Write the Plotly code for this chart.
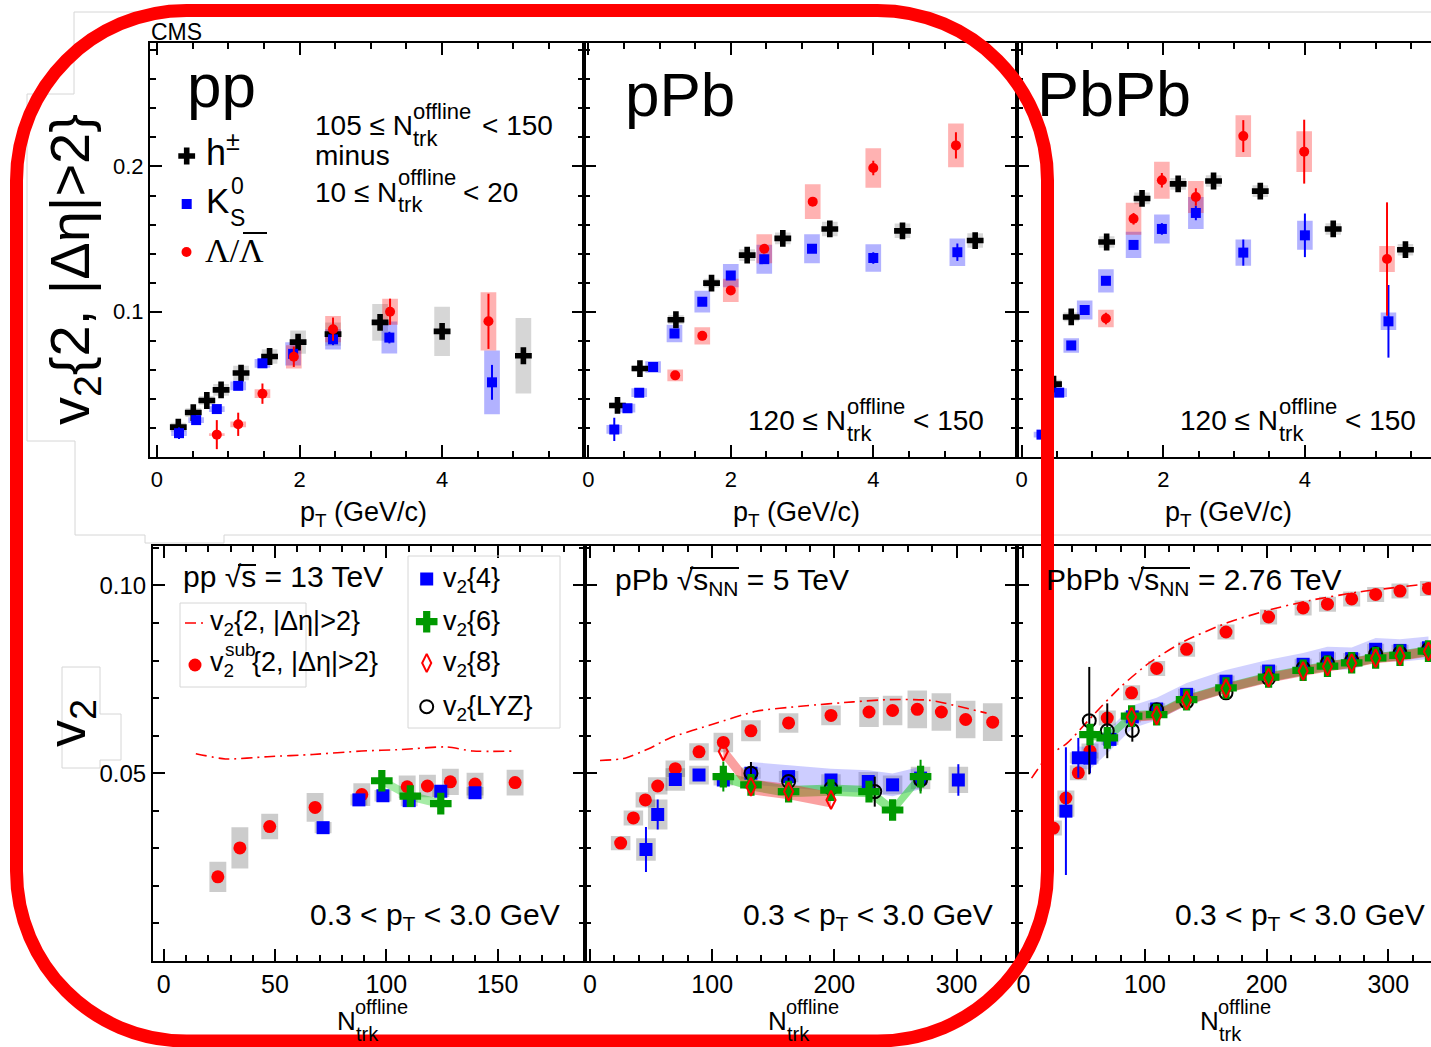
import plotly.graph_objects as go

W, H = 1431, 1047
FONT = "Liberation Sans"
SERIF = "Liberation Serif"

# ===================== DATA =====================
# ---- Top row: v2{2,|deta|>2} vs pT (GeV/c) ----
# pp
pp_h_pt = [0.30, 0.51, 0.70, 0.90, 1.18, 1.58, 1.98, 2.47, 3.13, 4.00, 5.14]
pp_h_v2 = [0.0206, 0.0306, 0.0389, 0.0462, 0.0578, 0.0692, 0.0791, 0.0846, 0.0927, 0.0865, 0.0697]
pp_h_sys = [0.003, 0.003, 0.003, 0.004, 0.005, 0.005, 0.008, 0.008, 0.0127, 0.017, 0.026]
pp_k_pt = [0.31, 0.55, 0.84, 1.14, 1.48, 1.91, 2.47, 3.26, 4.70]
pp_k_v2 = [0.0164, 0.0254, 0.0330, 0.0490, 0.0645, 0.0710, 0.0810, 0.0822, 0.0514]
pp_k_sys = [0.002, 0.002, 0.002, 0.003, 0.003, 0.008, 0.007, 0.011, 0.022]
pp_k_err = [0.004, 0.002, 0.002, 0.002, 0.002, 0.003, 0.004, 0.004, 0.012]
pp_l_pt = [0.84, 1.14, 1.48, 1.92, 2.47, 3.27, 4.65]
pp_l_v2 = [0.0154, 0.0225, 0.0436, 0.0690, 0.0880, 0.1000, 0.0934]
pp_l_sys = [0.001, 0.002, 0.003, 0.008, 0.009, 0.009, 0.020]
pp_l_err = [0.010, 0.008, 0.007, 0.007, 0.008, 0.009, 0.019]
# pPb
ppb_h_pt = [0.41, 0.725, 1.23, 1.73, 2.23, 2.73, 3.39, 4.41, 5.43]
ppb_h_v2 = [0.0355, 0.0609, 0.0945, 0.1197, 0.1390, 0.1505, 0.1570, 0.1557, 0.1490]
ppb_h_sys = [0.002, 0.002, 0.003, 0.003, 0.004, 0.004, 0.005, 0.005, 0.005]
ppb_k_pt = [0.365, 0.55, 0.715, 0.91, 1.21, 1.60, 2.00, 2.47, 3.14, 4.00, 5.18]
ppb_k_v2 = [0.0190, 0.0336, 0.0443, 0.0620, 0.0850, 0.1069, 0.1249, 0.1362, 0.1434, 0.1370, 0.1410]
ppb_k_sys = [0.003, 0.003, 0.003, 0.004, 0.006, 0.0075, 0.008, 0.010, 0.010, 0.0095, 0.0095]
ppb_k_err = [0.008, 0.002, 0.002, 0.002, 0.002, 0.002, 0.003, 0.003, 0.003, 0.004, 0.006]
ppb_l_pt = [1.22, 1.60, 2.00, 2.47, 3.15, 4.00, 5.16]
ppb_l_v2 = [0.0562, 0.0834, 0.1147, 0.1434, 0.1758, 0.1990, 0.2145]
ppb_l_sys = [0.004, 0.006, 0.008, 0.010, 0.012, 0.0136, 0.015]
ppb_l_err = [0.002, 0.002, 0.003, 0.003, 0.003, 0.005, 0.009]
# PbPb
pbpb_h_pt = [0.45, 0.70, 1.20, 1.70, 2.21, 2.71, 3.37, 4.40, 5.42]
pbpb_h_v2 = [0.0502, 0.0964, 0.1480, 0.1780, 0.1880, 0.1900, 0.1830, 0.1570, 0.1427]
pbpb_h_sys = [0.003, 0.003, 0.004, 0.004, 0.004, 0.004, 0.004, 0.004, 0.004]
pbpb_k_pt = [0.28, 0.53, 0.70, 0.89, 1.19, 1.58, 1.98, 2.46, 3.13, 4.00, 5.18]
pbpb_k_v2 = [0.0154, 0.0443, 0.0768, 0.1012, 0.1213, 0.1460, 0.1570, 0.1680, 0.1407, 0.1526, 0.0934]
pbpb_k_sys = [0.002, 0.003, 0.005, 0.0066, 0.008, 0.009, 0.010, 0.011, 0.009, 0.010, 0.006]
pbpb_k_err = [0.002, 0.002, 0.002, 0.002, 0.002, 0.003, 0.004, 0.005, 0.009, 0.015, 0.025]
pbpb_l_pt = [1.19, 1.58, 1.98, 2.46, 3.13, 3.99, 5.16]
pbpb_l_v2 = [0.0953, 0.1640, 0.1905, 0.1790, 0.2209, 0.2102, 0.1363]
pbpb_l_sys = [0.006, 0.011, 0.0127, 0.011, 0.0143, 0.014, 0.009]
pbpb_l_err = [0.004, 0.004, 0.005, 0.006, 0.011, 0.022, 0.039]

# ---- Bottom row: v2 vs N_trk^offline ----
# pp 13 TeV
pp_c2_N = [14.4, 27.7, 46.6, 67.0, 89.0, 106.5, 127.0, 139.0, 158.0]
pp_c2_v2 = [0.0552, 0.0538, 0.0544, 0.0550, 0.0559, 0.0563, 0.0570, 0.0559, 0.0559]
pp_sub_N = [24.3, 34.2, 47.6, 68.0, 89.0, 109.4, 118.5, 128.8, 139.9, 157.9]
pp_sub_v2 = [0.0224, 0.0301, 0.0358, 0.0409, 0.0443, 0.0464, 0.0466, 0.0477, 0.0471, 0.0475]
pp_sub_sys = [0.0040, 0.0055, 0.0034, 0.0038, 0.0030, 0.0030, 0.0030, 0.0035, 0.0030, 0.0034]
pp_v24_N = [71.6, 87.7, 98.5, 110.3, 124.5, 139.9]
pp_v24 = [0.0355, 0.0429, 0.0440, 0.0427, 0.0452, 0.0448]
pp_v24_sys = [0.0015, 0.0015, 0.0015, 0.0015, 0.0015, 0.0015]
pp_v24_err = [0.0012, 0.0010, 0.0010, 0.0012, 0.0012, 0.0010]
pp_v26_N = [98.0, 110.8, 124.5]
pp_v26 = [0.0480, 0.0439, 0.0419]
pp_v26_err = [0.0015, 0.0018, 0.0018]
# pPb 5 TeV
ppb_c2_N = [8.2, 27.3, 48.0, 65.5, 101.0, 136.0, 174.5, 215.5, 245.0, 278.0, 324.5]
ppb_c2_v2 = [0.0534, 0.0539, 0.0565, 0.0594, 0.0631, 0.0665, 0.0679, 0.0690, 0.0696, 0.0694, 0.0660]
ppb_sub_N = [25.1, 35.5, 45.3, 55.4, 69.8, 89.2, 109.1, 131.7, 162.5, 197.2, 228.3, 247.6, 267.8, 287.5, 307.4, 329.5]
ppb_sub_v2 = [0.0314, 0.0381, 0.0429, 0.0466, 0.0512, 0.0557, 0.0582, 0.0613, 0.0634, 0.0654, 0.0663, 0.0667, 0.0670, 0.0663, 0.0643, 0.0636]
ppb_sub_sys = [0.0019, 0.0020, 0.0020, 0.0023, 0.0022, 0.0023, 0.0026, 0.0028, 0.0026, 0.0026, 0.0040, 0.0039, 0.0050, 0.0050, 0.0050, 0.0050]
ppb_v24_N = [45.8, 55.4, 69.8, 89.2, 109.1, 131.7, 162.5, 197.2, 227.7, 247.6, 270.5, 301.4]
ppb_v24 = [0.0297, 0.0390, 0.0483, 0.0495, 0.0482, 0.0500, 0.0491, 0.0482, 0.0478, 0.0469, 0.0487, 0.0482]
ppb_v24_sys = [0.0030, 0.0040, 0.0030, 0.0025, 0.0015, 0.0015, 0.0015, 0.0015, 0.0025, 0.0025, 0.0030, 0.0035]
ppb_v24_err = [0.0060, 0.0040, 0.0010, 0.0010, 0.0010, 0.0010, 0.0010, 0.0010, 0.0010, 0.0010, 0.0010, 0.0042]
ppb_v26_N = [109.1, 131.7, 162.5, 197.2, 228.3, 247.6, 270.5]
ppb_v26 = [0.0491, 0.0469, 0.0451, 0.0455, 0.0451, 0.0402, 0.0491]
ppb_v26_err = [0.0040, 0.0012, 0.0012, 0.0012, 0.0012, 0.0012, 0.0045]
ppb_v28_N = [109.1, 131.7, 162.5, 197.2]
ppb_v28 = [0.0558, 0.0464, 0.0451, 0.0429]
ppb_lyz_N = [131.7, 162.5, 197.2, 233.0, 270.5]
ppb_lyz = [0.0500, 0.0478, 0.0460, 0.0451, 0.0482]
ppb_lyz_err = [0.0030, 0.0010, 0.0010, 0.0040, 0.0030]
# PbPb 2.76 TeV
pbpb_c2_N = [6.8, 20.0, 36.0, 57.8, 80.0, 104.0, 131.5, 167.0, 200.0, 235.6, 276.7, 335.0]
pbpb_c2_v2 = [0.0487, 0.0545, 0.0580, 0.0656, 0.0730, 0.0795, 0.0850, 0.0900, 0.0933, 0.0960, 0.0983, 0.1005]
pbpb_sub_N = [24.7, 35.0, 45.2, 54.8, 69.0, 89.0, 109.6, 134.2, 166.6, 201.6, 230.0, 250.0, 269.9, 289.6, 309.6, 333.0]
pbpb_sub_v2 = [0.0354, 0.0434, 0.0501, 0.0559, 0.0647, 0.0714, 0.0779, 0.0830, 0.0876, 0.0916, 0.0940, 0.0950, 0.0964, 0.0976, 0.0985, 0.0992]
pbpb_sub_sys = [0.0020] * 16
pbpb_v24_N = [35.0, 45.2, 54.8, 71.2, 89.6, 109.6, 134.2, 166.6, 201.6, 230.0, 250.0, 269.9, 289.6, 309.6, 333.0]
pbpb_v24 = [0.0399, 0.0541, 0.0540, 0.0590, 0.0650, 0.0671, 0.0710, 0.0745, 0.0772, 0.0790, 0.0807, 0.0805, 0.0830, 0.0827, 0.0834]
pbpb_v24_sys = [0.0015] * 15
pbpb_v24_err = [0.0170, 0.0053, 0.0040, 0.0020, 0.0010, 0.0008, 0.0008, 0.0008, 0.0008, 0.0008, 0.0008, 0.0008, 0.0008, 0.0008, 0.0008]
pbpb_v26_N = [54.8, 69.0, 89.0, 109.6, 134.2, 166.6, 201.6, 230.0, 250.0, 269.9, 289.6, 309.6, 333.0]
pbpb_v26 = [0.0603, 0.0594, 0.0652, 0.0656, 0.0696, 0.0727, 0.0756, 0.0774, 0.0785, 0.0794, 0.0807, 0.0814, 0.0825]
pbpb_v28_N = [89.0, 109.6, 134.2, 166.6, 201.6, 230.0, 250.0, 269.9, 289.6, 309.6, 333.0]
pbpb_v28 = [0.0650, 0.0654, 0.0694, 0.0726, 0.0754, 0.0772, 0.0784, 0.0793, 0.0806, 0.0812, 0.0824]
pbpb_lyz_N = [54.2, 69.0, 89.6, 109.6, 134.2, 166.6, 201.6, 230.0, 250.0, 269.9, 289.6, 309.6, 333.0]
pbpb_lyz = [0.0640, 0.0613, 0.0614, 0.0669, 0.0690, 0.0714, 0.0752, 0.0780, 0.0794, 0.0800, 0.0818, 0.0820, 0.0830]
pbpb_lyz_err = [0.0143, 0.0073, 0.0030, 0.0010, 0.0010, 0.0010, 0.0010, 0.0010, 0.0010, 0.0010, 0.0010, 0.0010, 0.0010]

# tick labels
top_xticks = [0, 2, 4]
top_yticks = [0.1, 0.2]
top_yticktext = ["0.1", "0.2"]
bot_yticks = [0.05, 0.10]
bot_yticktext = ["0.05", "0.10"]
pp_xticks = [0, 50, 100, 150]
ab_xticks = [0, 100, 200, 300]

# ===================== STYLE =====================
RED = "#ff0000"
BLUE = "#0000ff"
GREEN = "#009900"
GRAYBOX_T = "rgba(0,0,0,0.16)"
REDBOX_T = "rgba(255,0,0,0.30)"
BLUEBOX_T = "rgba(0,0,255,0.30)"
GRAYBOX_B = "rgba(0,0,0,0.20)"

fig = go.Figure()


def boxes(xs, ys, sys, hw, color, ax):
    bx, by = [], []
    for x, y, s in zip(xs, ys, sys):
        bx += [x - hw, x + hw, x + hw, x - hw, x - hw, None]
        by += [y - s, y - s, y + s, y + s, y - s, None]
    fig.add_trace(go.Scatter(x=bx, y=by, mode="lines", fill="toself", fillcolor=color,
                             line=dict(width=0, color=color), xaxis=ax[0], yaxis=ax[1],
                             hoverinfo="skip", showlegend=False))


def band(xs, ys, hw, color, ax):
    up = [y + hw for y in ys]
    lo = [y - hw for y in ys]
    fig.add_trace(go.Scatter(x=list(xs) + list(xs)[::-1] + [xs[0]], y=up + lo[::-1] + [up[0]],
                             mode="lines", fill="toself", fillcolor=color, line=dict(width=0, color=color),
                             xaxis=ax[0], yaxis=ax[1], hoverinfo="skip", showlegend=False))


def pts(xs, ys, ax, symbol, size, color, err=None, lw=0, errcolor=None):
    kw = {}
    if err is not None:
        kw["error_y"] = dict(type="data", array=err, visible=True, thickness=2, width=0,
                             color=errcolor or color)
    fig.add_trace(go.Scatter(x=xs, y=ys, mode="markers",
                             marker=dict(symbol=symbol, size=size, color=color,
                                         line=dict(width=lw, color=color)),
                             xaxis=ax[0], yaxis=ax[1], hoverinfo="skip", showlegend=False, **kw))


def dashdot(xs, ys, ax):
    fig.add_trace(go.Scatter(x=xs, y=ys, mode="lines",
                             line=dict(color=RED, width=1.6, dash="11px,5px,2px,5px", shape="spline",
                                       smoothing=0.6),
                             xaxis=ax[0], yaxis=ax[1], hoverinfo="skip", showlegend=False))


TOP_HW = 0.11
# ---- top panels ----
for (hpt, hv, hs, kpt, kv, ks, ke, lpt, lv, ls, le, ax) in [
    (pp_h_pt, pp_h_v2, pp_h_sys, pp_k_pt, pp_k_v2, pp_k_sys, pp_k_err, pp_l_pt, pp_l_v2, pp_l_sys, pp_l_err, ("x", "y")),
    (ppb_h_pt, ppb_h_v2, ppb_h_sys, ppb_k_pt, ppb_k_v2, ppb_k_sys, ppb_k_err, ppb_l_pt, ppb_l_v2, ppb_l_sys, ppb_l_err, ("x2", "y2")),
    (pbpb_h_pt, pbpb_h_v2, pbpb_h_sys, pbpb_k_pt, pbpb_k_v2, pbpb_k_sys, pbpb_k_err, pbpb_l_pt, pbpb_l_v2, pbpb_l_sys, pbpb_l_err, ("x3", "y3")),
]:
    boxes(hpt, hv, hs, TOP_HW, GRAYBOX_T, ax)
    boxes(kpt, kv, ks, TOP_HW, BLUEBOX_T, ax)
    boxes(lpt, lv, ls, TOP_HW, REDBOX_T, ax)
    pts(hpt, hv, ax, "cross", 14, "black")
    pts(kpt, kv, ax, "square", 10, BLUE, err=ke)
    pts(lpt, lv, ax, "circle", 10, RED, err=le)

# ---- bottom pp ----
ax = ("x4", "y4")
boxes(pp_sub_N, pp_sub_v2, pp_sub_sys, 3.8, GRAYBOX_B, ax)
boxes(pp_v24_N, pp_v24, pp_v24_sys, 3.8, GRAYBOX_B, ax)
band(pp_v26_N, pp_v26, 0.0012, "rgba(0,200,0,0.35)", ax)
dashdot(pp_c2_N, pp_c2_v2, ax)
pts(pp_sub_N, pp_sub_v2, ax, "circle", 13, RED)
pts(pp_v24_N, pp_v24, ax, "square", 13, BLUE, err=pp_v24_err)
pts(pp_v26_N, pp_v26, ax, "cross", 18, GREEN, err=pp_v26_err)

# ---- bottom pPb ----
ax = ("x5", "y5")
boxes(ppb_sub_N, ppb_sub_v2, ppb_sub_sys, 8, GRAYBOX_B, ax)
boxes(ppb_v24_N, ppb_v24, ppb_v24_sys, 8, GRAYBOX_B, ax)
band(ppb_v24_N[5:11], ppb_v24[5:11], 0.0030, "rgba(90,90,255,0.30)", ax)
band(ppb_v26_N, ppb_v26, 0.0015, "rgba(0,200,0,0.45)", ax)
band(ppb_v28_N, ppb_v28, 0.0020, "rgba(245,45,45,0.45)", ax)
dashdot(ppb_c2_N, ppb_c2_v2, ax)
pts(ppb_sub_N, ppb_sub_v2, ax, "circle", 13, RED)
pts(ppb_v24_N, ppb_v24, ax, "square", 13, BLUE, err=ppb_v24_err)
pts(ppb_lyz_N, ppb_lyz, ax, "circle-open", 13, "black", err=ppb_lyz_err, lw=2)
pts(ppb_v26_N, ppb_v26, ax, "cross", 18, GREEN, err=ppb_v26_err)
pts(ppb_v28_N, ppb_v28, ax, "diamond-tall-open", 13, RED, lw=2)

# ---- bottom PbPb ----
ax = ("x6", "y6")
boxes(pbpb_sub_N, pbpb_sub_v2, pbpb_sub_sys, 7, GRAYBOX_B, ax)
boxes(pbpb_v24_N, pbpb_v24, pbpb_v24_sys, 7, GRAYBOX_B, ax)
band(pbpb_v24_N[1:], pbpb_v24[1:], 0.0030, "rgba(90,90,255,0.28)", ax)
band(pbpb_v26_N, pbpb_v26, 0.0013, "rgba(0,200,0,0.45)", ax)
band(pbpb_v28_N, pbpb_v28, 0.0013, "rgba(245,45,45,0.45)", ax)
dashdot(pbpb_c2_N, pbpb_c2_v2, ax)
pts(pbpb_sub_N, pbpb_sub_v2, ax, "circle", 13, RED)
pts(pbpb_v24_N, pbpb_v24, ax, "square", 13, BLUE, err=pbpb_v24_err)
pts(pbpb_lyz_N, pbpb_lyz, ax, "circle-open", 13, "black", err=pbpb_lyz_err, lw=2)
pts(pbpb_v26_N, pbpb_v26, ax, "cross", 18, GREEN)
pts(pbpb_v28_N, pbpb_v28, ax, "diamond-tall-open", 13, RED, lw=2)

# ---- legend symbols (overlay pixel axis) ----
for (x, y, sym, sz, col, lw) in [
    (186.7, 156, "cross", 14, "black", 0), (186.7, 204, "square", 10, BLUE, 0), (186.5, 252, "circle", 10, RED, 0),
    (195, 665, "circle", 13, RED, 0), (426.7, 579, "square", 13, BLUE, 0), (426.7, 621.7, "cross", 18, GREEN, 0),
    (426.7, 663, "diamond-tall-open", 13, RED, 2), (426.7, 706.7, "circle-open", 13, "black", 2)]:
    fig.add_trace(go.Scatter(x=[x], y=[y], mode="markers",
                             marker=dict(symbol=sym, size=sz, color=col, line=dict(width=lw, color=col)),
                             xaxis="x7", yaxis="y7", hoverinfo="skip", showlegend=False))
fig.add_trace(go.Scatter(x=[185, 205], y=[623, 623], mode="lines",
                         line=dict(color=RED, width=1.6, dash="11px,5px,2px,5px"),
                         xaxis="x7", yaxis="y7", hoverinfo="skip", showlegend=False))


# ===================== AXES =====================
def px_dom(a, b):
    return [a / W, min(b / W, 1.0)]


def py_dom(top, bottom):
    return [1 - bottom / H, 1 - top / H]


def axbase(**kw):
    d = dict(showline=True, linecolor="black", linewidth=2, mirror="ticks", ticks="inside",
             ticklen=12, tickwidth=2, tickcolor="black", showgrid=False, zeroline=False,
             fixedrange=True, tickfont=dict(family=FONT, size=22, color="black"))
    d.update(kw)
    return d


def minor(dt):
    return dict(ticks="inside", ticklen=6, tickwidth=2, tickcolor="black", dtick=dt, tick0=0, showgrid=False)


layout_axes = {}
TOPY = (43, 457)
BOTY = (546, 961)
tops = [("", (150, 583.5), [-0.097, 5.983]), ("2", (583.5, 1017), [-0.067, 6.017]), ("3", (1017, 1431), [-0.066, 5.781])]
for i, (sfx, xd, xr) in enumerate(tops):
    layout_axes["xaxis" + sfx] = axbase(domain=px_dom(*xd), range=xr, tickvals=top_xticks, minor=minor(0.5),
                                        anchor="y" + sfx, ticklabelstandoff=2)
    layout_axes["yaxis" + sfx] = axbase(domain=py_dom(*TOPY), range=[0, 0.285], tickvals=top_yticks,
                                        ticktext=top_yticktext, minor=minor(0.02), anchor="x" + sfx,
                                        showticklabels=(i == 0), tickfont=dict(family=FONT, size=22, color="black"),
                                        mirror=("ticks" if i < 2 else False))
bots = [("4", (153, 584.5), [-4.85, 189.1], pp_xticks, 10), ("5", (584.5, 1017), [-4.5, 349.4], ab_xticks, 20),
        ("6", (1017, 1431), [-5.2, 335.1], ab_xticks, 20)]
for i, (sfx, xd, xr, tv, md) in enumerate(bots):
    layout_axes["xaxis" + sfx] = axbase(domain=px_dom(*xd), range=xr, tickvals=tv, minor=minor(md),
                                        anchor="y" + sfx, ticklabelstandoff=0,
                                        tickfont=dict(family=FONT, size=25, color="black"))
    layout_axes["yaxis" + sfx] = axbase(domain=py_dom(*BOTY), range=[0, 0.1105], tickvals=bot_yticks,
                                        ticktext=bot_yticktext, minor=minor(0.01), anchor="x" + sfx,
                                        showticklabels=(i == 0), tickfont=dict(family=FONT, size=24, color="black"),
                                        mirror=("ticks" if i < 2 else False))
layout_axes["xaxis7"] = dict(domain=[0, 1], range=[0, W], visible=False, fixedrange=True, anchor="y7")
layout_axes["yaxis7"] = dict(domain=[0, 1], range=[H, 0], visible=False, fixedrange=True, anchor="x7")

# ===================== TEXT =====================
annots = []


def T(text, left, base, size, fam=FONT, mode="b", color="black"):
    if mode == "b":
        y, ya = base + 0.212 * size, "bottom"
    else:
        y, ya = base - 0.905 * size, "top"
    annots.append(dict(text=text, x=left, y=y, xref="x7", yref="y7", xanchor="left", yanchor=ya,
                       showarrow=False, borderpad=0, borderwidth=0,
                       font=dict(family=fam, size=size, color=color)))


T("CMS", 151, 40, 23)
T("pp", 187, 107, 62)
T("pPb", 625, 116, 62)
T("PbPb", 1037, 116, 63)
T("h<sup>±</sup>", 206, 165, 36)
T("K", 206, 213, 35)
T("0", 231, 194, 23)
T("S", 230, 226, 23)
T("Λ/Λ", 205, 262, 34, fam=SERIF)
T("105 ≤ N", 315, 135, 28)
T("offline", 413, 119, 22)
T("trk", 413, 146, 22)
T("< 150", 481.7, 135, 28)
T("minus", 315, 165, 28)
T("10 ≤ N", 315, 201.7, 28)
T("offline", 398, 185, 22)
T("trk", 398, 212, 22)
T("< 20", 463, 201.7, 28)
for lx in (748, 1180):
    T("120 ≤ N", lx, 430, 28)
    T("offline", lx + 99, 414, 22)
    T("trk", lx + 99, 441, 22)
    T("< 150", lx + 165, 430, 28)
# top x titles
for lx in (300, 733, 1165):
    T("p<sub>T</sub> (GeV/c)", lx, 521.7, 27, mode="t")
# bottom panel headers
T("pp √s = 13 TeV", 183, 587, 30)
T("pPb √s<sub>NN</sub> = 5 TeV", 615, 590, 30, mode="t")
T("PbPb √s<sub>NN</sub> = 2.76 TeV", 1046, 590, 30, mode="t")
# legends bottom
T("v<sub>2</sub>{2, |Δη|>2}", 210, 630, 27, mode="t")
T("v<sub>2</sub>", 210, 671, 27, mode="t")
T("sub", 225, 656, 19)
T("{2, |Δη|>2}", 252, 671, 27)
T("v<sub>2</sub>{4}", 443, 587, 27, mode="t")
T("v<sub>2</sub>{6}", 443, 630, 27, mode="t")
T("v<sub>2</sub>{8}", 443, 671, 27, mode="t")
T("v<sub>2</sub>{LYZ}", 443, 715, 27, mode="t")
for lx in (310, 743, 1175):
    T("0.3 < p<sub>T</sub> < 3.0 GeV", lx, 925, 30, mode="t")
# bottom x titles
for lx in (337, 768, 1200):
    T("N", lx, 1030, 26)
    T("offline", lx + 18, 1014, 20)
    T("trk", lx + 19, 1041, 20)
# y titles
annots.append(dict(text="v<sub>2</sub>{2, |Δη|>2}", x=73, y=270, xref="x7", yref="y7", textangle=-90,
                   xanchor="center", yanchor="middle", showarrow=False,
                   font=dict(family=FONT, size=56, color="black")))
annots.append(dict(text="v<sub>2</sub>", x=70, y=723, xref="x7", yref="y7", textangle=-90,
                   xanchor="center", yanchor="middle", showarrow=False,
                   font=dict(family=FONT, size=54, color="black")))

# ===================== SHAPES =====================
shapes = []
LG = "#d6d6d6"


def seg(path, color=LG, width=1, layer="below"):
    shapes.append(dict(type="path", path=path, xref="x7", yref="y7", line=dict(color=color, width=width),
                       fillcolor="rgba(0,0,0,0)", layer=layer))


seg("M1431,12 H74 V94 H27 V441 H75 V535 H145 V543 H224 V535 H1431")
seg("M62,768 V667 H100 V714 H121 V760 H100 V768 Z")
seg("M180,603 H306 V687 H180 Z")
seg("M408,556 H560 V728 H408 Z")
# overlines (Lambda-bar, sqrt)
for (x0, x1, y) in [(243, 267, 233), (238, 256, 565), (690, 739, 568), (1141, 1190, 568)]:
    shapes.append(dict(type="line", x0=x0, x1=x1, y0=y, y1=y, xref="x7", yref="y7",
                       line=dict(color="black", width=2), layer="above"))
# red rounded frame
x0, y0, x1, y1, R = 16.5, 10.5, 1047.5, 1041, 170
k = 0.5523 * R
rr = (f"M{x0+R},{y0} H{x1-R} C{x1-R+k},{y0} {x1},{y0+R-k} {x1},{y0+R} V{y1-R} "
      f"C{x1},{y1-R+k} {x1-R+k},{y1} {x1-R},{y1} H{x0+R} C{x0+R-k},{y1} {x0},{y1-R+k} {x0},{y1-R} "
      f"V{y0+R} C{x0},{y0+R-k} {x0+R-k},{y0} {x0+R},{y0} Z")
shapes.append(dict(type="path", path=rr, xref="x7", yref="y7", line=dict(color=RED, width=13),
                   fillcolor="rgba(0,0,0,0)", layer="above"))

fig.update_layout(width=W, height=H, margin=dict(l=0, r=0, t=0, b=0), paper_bgcolor="white",
                  plot_bgcolor="rgba(0,0,0,0)", showlegend=False, annotations=annots, shapes=shapes,
                  **layout_axes)
fig.write_html("out.html")
